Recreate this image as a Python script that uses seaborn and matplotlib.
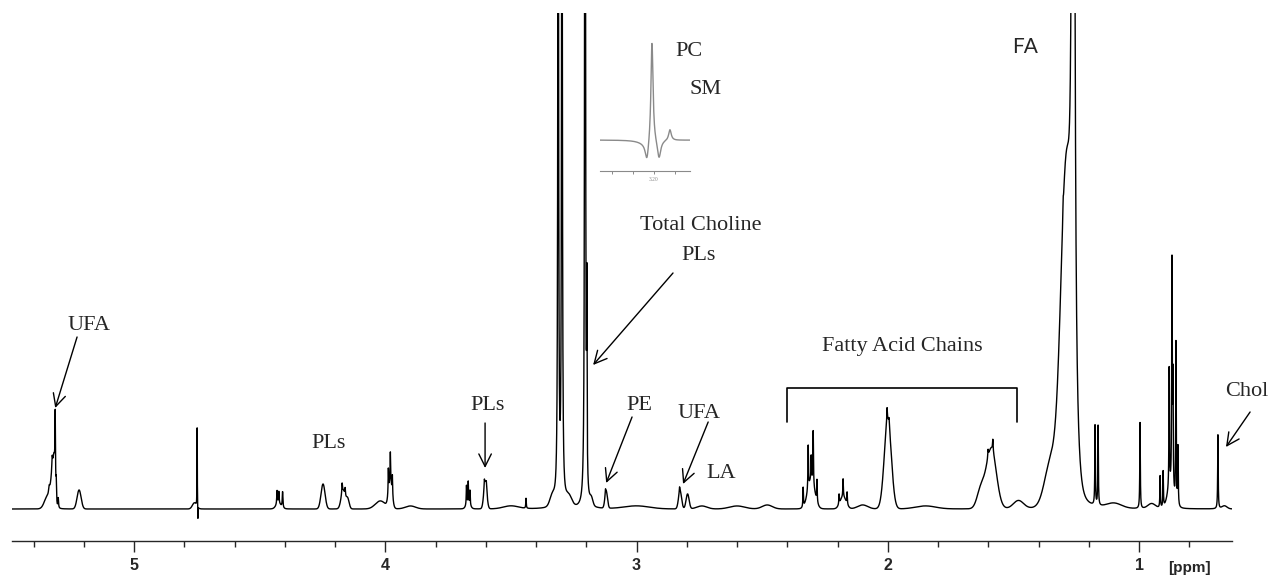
import numpy as np
import pandas as pd
import matplotlib
matplotlib.use("Agg")
import matplotlib.pyplot as plt
import seaborn as sns

# ---------------------------------------------------------------
# 1H NMR spectrum of a lipid extract, described as a list of
# resonances.  Narrow lines are Lorentzian, broad envelopes Gaussian.
# Heights are in arbitrary intensity units.
# ---------------------------------------------------------------
line_ppm = [5.338, 5.326, 5.314, 5.310, 5.302,
            4.749, 4.746,
            4.431, 4.424, 4.409,
            4.172, 4.160,
            3.988, 3.980, 3.972,
            3.677, 3.670, 3.663, 3.606, 3.598,
            3.440, 3.312, 3.297, 3.205, 3.198, 3.124, 2.829,
            2.337, 2.317, 2.305, 2.297, 2.282,
            2.194, 2.178, 2.162,
            2.003, 1.995, 1.601, 1.582,
            1.302, 1.262,
            1.175, 1.163, 0.996,
            0.916, 0.904, 0.880, 0.869, 0.865, 0.853, 0.845,
            0.686]
line_height = [8, 15, 70, 20, 10,
               88, -14,
               14, 12, 16,
               10, 8,
               25, 30, 20,
               20, 22, 15, 8, 6,
               10, 900, 900, 1500, 180, 5, 5,
               20, 45, 25, 55, 22,
               10, 18, 12,
               15, 8, 8, 12,
               12, 3000,
               82, 82, 86,
               32, 36, 120, 230, 110, 165, 60,
               74]
line_hwhm = [0.003, 0.002, 0.0012, 0.0012, 0.0015,
             0.0006, 0.0006,
             0.0015, 0.0015, 0.0015,
             0.0015, 0.0015,
             0.0012, 0.0012, 0.0012,
             0.0012, 0.0012, 0.0012, 0.0012, 0.0012,
             0.0012, 0.0017, 0.0017, 0.0015, 0.001, 0.0012, 0.0012,
             0.0012, 0.0012, 0.0012, 0.0012, 0.0012,
             0.0012, 0.0012, 0.0012,
             0.0015, 0.0015, 0.0015, 0.0015,
             0.0012, 0.003,
             0.0012, 0.0012, 0.0012,
             0.0012, 0.0012, 0.0012, 0.0012, 0.0012, 0.0012, 0.0012,
             0.0012]

band_ppm = [5.345, 5.325, 5.318, 5.219, 4.760, 4.425, 4.248, 4.168, 4.150,
            4.020, 3.980, 3.900, 3.670, 3.602, 3.500, 3.335, 3.270, 3.180,
            3.121, 3.000, 2.827, 2.797, 2.740, 2.600, 2.480, 2.305, 2.178,
            2.100, 2.000, 1.850, 1.630, 1.588, 1.480, 1.290, 1.350, 1.100,
            0.950, 0.875, 0.660]
band_height = [12, 30, 30, 19, 6, 5, 25, 18, 10,
               8, 25, 3, 5, 27, 3, 10, 10, 7,
               17, 3, 18, 15, 3, 3, 4, 28, 12,
               4, 88, 3, 18, 60, 8, 320, 45, 5,
               5, 20, 3]
band_sigma = [0.012, 0.007, 0.004, 0.008, 0.008, 0.01, 0.008, 0.008, 0.006,
              0.02, 0.007, 0.02, 0.008, 0.006, 0.03, 0.01, 0.012, 0.006,
              0.005, 0.05, 0.006, 0.006, 0.02, 0.03, 0.02, 0.014, 0.012,
              0.02, 0.014, 0.04, 0.015, 0.02, 0.02, 0.022, 0.025, 0.03,
              0.015, 0.012, 0.01]

# Expanded choline region (PC and SM N(CH3)3 signals)
inset_ppm = [3.2019, 3.2067, 3.1952, 3.1848, 3.2080]
inset_height = [104, -19, -19, 11, -4]
inset_hwhm = [0.0012, 0.002, 0.002, 0.0015, 0.008]

major_ticks = [5, 4, 3, 2, 1]
tick_labels = ["5", "4", "3", "2", "1"]
fatty_acid_range = (2.401, 1.486)


def build_spectrum(grid, l_ppm, l_h, l_w, g_ppm=(), g_h=(), g_s=()):
    y = np.zeros_like(grid)
    for c, h, w in zip(l_ppm, l_h, l_w):
        y += h / (1.0 + ((grid - c) / w) ** 2)
    for c, h, s in zip(g_ppm, g_h, g_s):
        y += h * np.exp(-0.5 * ((grid - c) / s) ** 2)
    return y


ppm = np.arange(5.486, 0.630, -0.0004)
spec = pd.DataFrame({
    "ppm": ppm,
    "intensity": build_spectrum(ppm, line_ppm, line_height, line_hwhm,
                                band_ppm, band_height, band_sigma),
})

ppm_in = np.arange(3.2514, 3.1657, -0.0002)
inset = pd.DataFrame({
    "ppm": ppm_in,
    "intensity": build_spectrum(ppm_in, inset_ppm, inset_height, inset_hwhm),
})

sns.set_style("ticks")
plt.rcParams["font.family"] = ["Liberation Serif", "DejaVu Serif"]

W, H = 1273, 575
fig = plt.figure(figsize=(W / 100, H / 100), dpi=100)
fig.patch.set_facecolor("white")

ax = fig.add_axes([12 / W, 1 - 541 / H, (1232 - 12) / W, (541 - 13) / H])
sns.lineplot(data=spec, x="ppm", y="intensity", ax=ax, color="black",
             linewidth=1.0, estimator=None, sort=False)
ax.set_xlim(5.486, 0.630)
ax.set_ylim(-32, 496)
ax.set_xlabel("")
ax.set_ylabel("")
ax.set_yticks([])
for side in ("left", "top", "right"):
    ax.spines[side].set_visible(False)
ax.spines["bottom"].set_linewidth(1.0)
ax.set_xticks(major_ticks)
ax.set_xticklabels(tick_labels)
ax.set_xticks(np.arange(5.4, 0.7, -0.2), minor=True)
ax.tick_params(axis="x", which="major", direction="out", length=8, width=1.0,
               pad=4.5, labelsize=11.5)
ax.tick_params(axis="x", which="minor", direction="out", length=4.5, width=1.0)
for lab in ax.get_xticklabels():
    lab.set_fontfamily("Liberation Sans")
    lab.set_fontweight("bold")
ax.text(0.8, -0.051, "[ppm]", transform=ax.get_xaxis_transform(),
        ha="center", va="center", fontsize=11, fontweight="bold",
        family="Liberation Sans")

# peak labels
fs = 16
arrow = dict(arrowstyle="->, head_length=0.6, head_width=0.3", lw=1.0,
             color="black", shrinkA=0, shrinkB=0, mutation_scale=15)


def label(txt, x, y, **kw):
    ax.text(x, y, txt, ha="center", va="center", fontsize=fs, **kw)


def pointer(tail, tip):
    ax.annotate("", xy=tip, xytext=tail, arrowprops=arrow,
                annotation_clip=False)


label("UFA", 5.181, 184)
pointer((5.227, 172), (5.314, 101))
label("PLs", 4.224, 66)
label("PLs", 3.595, 104)
pointer((3.603, 86), (3.603, 41))
label("Total Choline", 2.743, 283)
label("PLs", 2.755, 253)
pointer((2.855, 236), (3.173, 144))
label("PE", 2.990, 104)
pointer((3.018, 92), (3.121, 26))
label("UFA", 2.751, 96)
pointer((2.715, 87), (2.815, 25))
label("LA", 2.664, 35)
label("Fatty Acid Chains", 1.943, 163)
lo, hi = fatty_acid_range
ax.plot([lo, lo, hi, hi], [87, 121, 121, 87], color="black", lw=1.2)
label("Chol", 0.570, 118)
pointer((0.558, 97), (0.654, 62))
ax.text(1.454, 462, "FA", ha="center", va="center", fontsize=15,
        family=["Lato", "DejaVu Sans"])

# inset: expansion around 3.20 ppm
axi = fig.add_axes([600 / W, 1 - 171 / H, 90 / W, 136 / H])
axi.patch.set_alpha(0)
sns.lineplot(data=inset, x="ppm", y="intensity", ax=axi, color="#8a8a8a",
             linewidth=1.0, estimator=None, sort=False)
axi.set_xlim(3.2514, 3.1657)
axi.set_ylim(-31, 105)
axi.set_xlabel("")
axi.set_ylabel("")
axi.set_yticks([])
for side in ("left", "top", "right"):
    axi.spines[side].set_visible(False)
axi.spines["bottom"].set_color("#8a8a8a")
axi.spines["bottom"].set_linewidth(0.8)
axi.set_xticks([3.24, 3.22, 3.20, 3.18])
axi.set_xticklabels(["", "", "3.20", ""])
axi.tick_params(axis="x", direction="out", length=2.5, width=0.7,
                colors="#8a8a8a", labelsize=4, pad=2)
axi.text(3.1667, 88, "PC", ha="center", va="center", fontsize=fs)
axi.text(3.1505, 50, "SM", ha="center", va="center", fontsize=fs)

fig.savefig("out.png", dpi=100, facecolor="white")
